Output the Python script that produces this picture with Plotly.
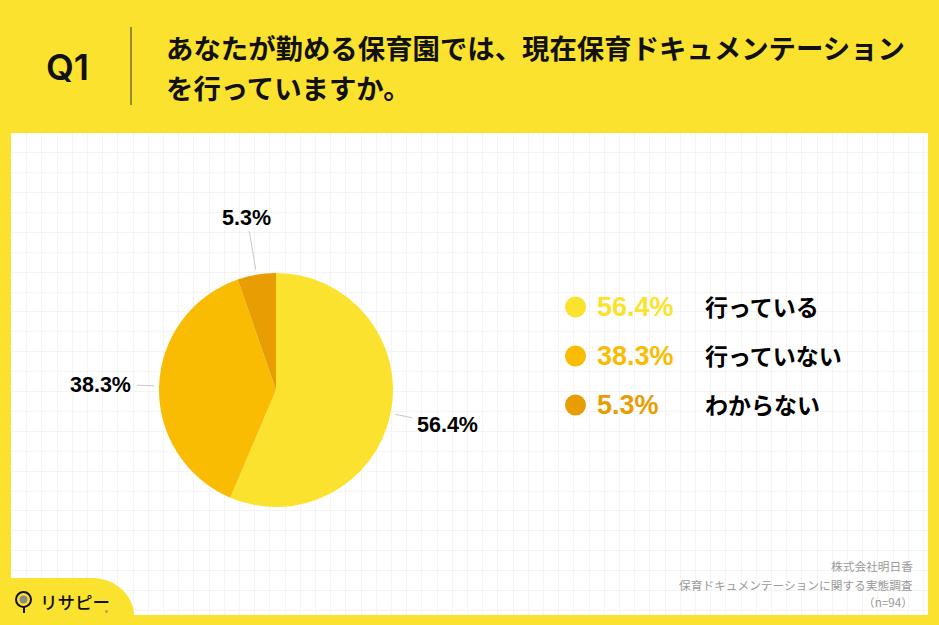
import math
import plotly.graph_objects as go

W, H = 939, 625

# data
answers = ['行っている', '行っていない', 'わからない']
percents = [56.4, 38.3, 5.3]
pct_labels = ['56.4%', '38.3%', '5.3%']
colors = ['#FBE22E', '#F9BC02', '#E89E03']
title_lines = ['あなたが勤める保育園では、現在保育ドキュメンテーション', 'を行っていますか。']
source_lines = ['株式会社明日香', '保育ドキュメンテーションに関する実態調査', '（n=94）']

YELLOW = '#FBE22E'
LATIN = '"Liberation Sans", Arial, sans-serif'
JP = '"Noto Sans CJK JP", sans-serif'


def px(x):
    return x / W


def py(y):
    return 1 - y / H


def label(x, y, text, size, color='#000000', anchor='left', weight=700, family=LATIN):
    return dict(x=px(x), y=py(y), xref='paper', yref='paper', text=text, showarrow=False,
                xanchor=anchor, yanchor='middle', borderpad=0,
                font=dict(size=size, color=color, family=family, weight=weight))


def line(x0, y0, x1, y1, color, width):
    return dict(type='line', xref='paper', yref='paper', x0=px(x0), y0=py(y0), x1=px(x1), y1=py(y1),
                line=dict(color=color, width=width))


fig = go.Figure()

# pie
cx, cy, r = 276, 390, 117
fig.add_trace(go.Pie(values=percents, labels=answers, sort=False, direction='clockwise', rotation=0,
                     marker=dict(colors=colors, line=dict(width=0)), textinfo='none', hoverinfo='skip',
                     showlegend=False,
                     domain=dict(x=[px(cx - r), px(cx + r)], y=[py(cy + r), py(cy - r)])))

# legend dots on the pixel axes
legend_y = [307, 356, 405]
fig.add_trace(go.Scatter(x=[575.5] * 3, y=legend_y, mode='markers', hoverinfo='skip', showlegend=False,
                         marker=dict(size=21, color=colors, line=dict(width=0))))

annotations = []
shapes = []

# leader lines follow the slice mid angles
label_pos = [(447, 425), (100, 385), (246, 218)]
lead_end = [139, 139, 161]
running = 0
for p, txt, pos, end in zip(percents, pct_labels, label_pos, lead_end):
    ang = math.radians((running + p / 2) * 3.6)
    running += p
    shapes.append(line(cx + 122 * math.sin(ang), cy - 122 * math.cos(ang),
                       cx + end * math.sin(ang), cy - end * math.cos(ang), '#C9C9C9', 1))
    annotations.append(label(pos[0], pos[1], txt, 21.5, anchor='center'))

# right hand legend
for y, txt, name, c in zip(legend_y, pct_labels, answers, colors):
    annotations.append(label(596, y, txt, 27, color=c))
    annotations.append(label(704, y - 1, name, 23, family=JP))

# header
annotations.append(label(44.5, 67, 'Q1', 36, color='#111111', weight=600, family='Inter, sans-serif'))
shapes.append(line(131, 27, 131, 105, '#333333', 1))
annotations.append(label(165, 46.5, title_lines[0], 27.4, color='#111111', family=JP))
annotations.append(label(165, 87, title_lines[1], 27.4, color='#111111', family=JP))

# source
annotations.append(label(913.5, 565, source_lines[0], 11.7, color='#9A9A9A', anchor='right', weight=400, family=JP))
annotations.append(label(913.5, 584, source_lines[1], 11.7, color='#9A9A9A', anchor='right', weight=400, family=JP))
annotations.append(label(913.5, 601, source_lines[2], 11.7, color='#9A9A9A', anchor='right', weight=400, family=JP))

# logo tab, bottom left
shapes.append(dict(type='path', xref='paper', yref='paper',
                   path=f'M {px(0)} {py(625)} L {px(0)} {py(578)} L {px(92)} {py(578)} '
                        f'C {px(115)} {py(578)} {px(134)} {py(595)} {px(134)} {py(616)} L {px(134)} {py(625)} Z',
                   fillcolor=YELLOW, line=dict(width=0)))
shapes.append(dict(type='circle', xref='paper', yref='paper', x0=px(16), y0=py(607), x1=px(31), y1=py(592),
                   line=dict(color='#111111', width=2), fillcolor=YELLOW))
shapes.append(dict(type='circle', xref='paper', yref='paper', x0=px(19.5), y0=py(603.5), x1=px(27.5), y1=py(595.5),
                   line=dict(width=0), fillcolor='#8A8A80'))
shapes.append(line(24, 607, 24, 613, '#111111', 2))
annotations.append(label(39, 601, 'リサピー', 17.5, color='#111111', weight=500, family=JP))
shapes.append(dict(type='circle', xref='paper', yref='paper', x0=px(105), y0=py(613), x1=px(108), y1=py(610),
                   line=dict(width=0), fillcolor='#B0A850'))

fig.update_layout(
    width=W, height=H, margin=dict(l=0, r=0, t=0, b=0), autosize=False,
    paper_bgcolor=YELLOW, plot_bgcolor='#FFFFFF',
    xaxis=dict(domain=[px(11), px(928)], range=[11, 928], showticklabels=False, ticks='', zeroline=False,
               showgrid=True, gridcolor='#F4F4F4', gridwidth=1, tick0=148.3, dtick=15.2, fixedrange=True),
    yaxis=dict(domain=[py(615), py(133)], range=[615, 133], showticklabels=False, ticks='', zeroline=False,
               showgrid=True, gridcolor='#F4F4F4', gridwidth=1, tick0=152.7, dtick=19.9, fixedrange=True),
    annotations=annotations, shapes=shapes,
)

# the page's default body margin would shift the picture by 8px
fig.write_html("out.html", post_script="document.body.style.margin='0';document.documentElement.style.overflow='hidden';",
               config=dict(displayModeBar=False))
